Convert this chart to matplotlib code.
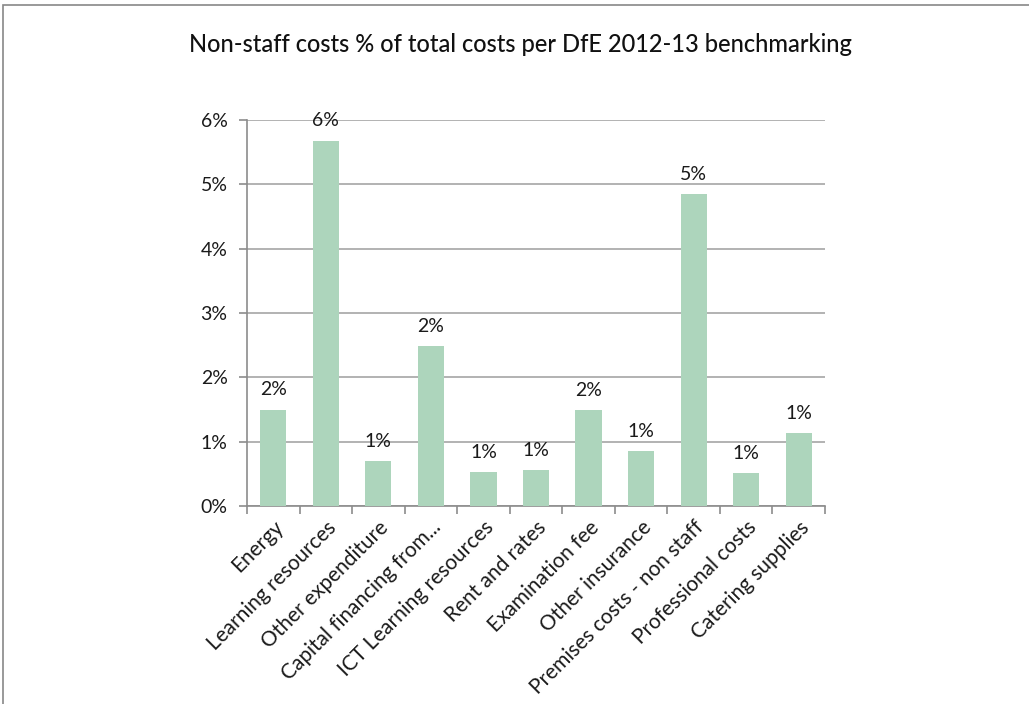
import matplotlib.pyplot as plt
import numpy as np
from matplotlib.patches import Rectangle

categories = [
    "Energy", "Learning resources", "Other expenditure", "Capital financing from...",
    "ICT Learning resources", "Rent and rates", "Examination fee", "Other insurance",
    "Premises costs - non staff", "Professional costs", "Catering supplies",
]
values = [1.50, 5.68, 0.70, 2.49, 0.53, 0.56, 1.49, 0.85, 4.85, 0.51, 1.14]
value_labels = ["2%", "6%", "1%", "2%", "1%", "1%", "2%", "1%", "5%", "1%", "1%"]
y_ticks = [0, 1, 2, 3, 4, 5, 6]

plt.rcParams['font.family'] = ['Lato', 'DejaVu Sans']

fig = plt.figure(figsize=(10.29, 7.04), dpi=100)
fig.patch.set_facecolor('white')

# chart frame
fig.add_artist(Rectangle((3 / 1029, -0.05), 1.2, 1 - 5 / 704 + 0.05, transform=fig.transFigure,
                         fill=False, edgecolor='#878787', linewidth=1.2))

ax = fig.add_axes([247 / 1029, 1 - 506 / 704, (825 - 247) / 1029, (506 - 120) / 704])

x = np.arange(len(categories))
ax.bar(x, values, width=0.5, color='#add5bc', zorder=3)

for xi, v, lab in zip(x, values, value_labels):
    ax.annotate(lab, (xi, v), xytext=(0, 8), textcoords='offset points',
                ha='center', va='bottom', fontsize=14, color='#1a1a1a', zorder=4)

ax.set_xlim(-0.5, len(categories) - 0.5)
ax.set_ylim(0, 6)
ax.set_yticks(y_ticks)
ax.set_yticklabels([f"{t}%" for t in y_ticks], fontsize=14, color='#1a1a1a')
ax.yaxis.grid(True, color='#a6a6a6', linewidth=1.2, zorder=0)

ax.set_xticks(np.arange(-0.5, len(categories), 1.0))
ax.set_xticklabels([])
ax.set_xticks(x, minor=True)
ax.set_xticklabels(categories, minor=True, rotation=45, ha='right',
                   rotation_mode='anchor', fontsize=15, color='#1a1a1a')
ax.tick_params(axis='x', which='minor', length=0, pad=8)
ax.tick_params(axis='x', which='major', length=6, color='#8c8c8c', width=1.2, direction='out')
ax.tick_params(axis='y', length=6, color='#8c8c8c', width=1.2, pad=8)

for side in ['top', 'right']:
    ax.spines[side].set_visible(False)
for side in ['left', 'bottom']:
    ax.spines[side].set_color('#8c8c8c')
    ax.spines[side].set_linewidth(1.2)

fig.text(520 / 1029, 1 - 45 / 704, "Non-staff costs % of total costs per DfE 2012-13 benchmarking",
         ha='center', va='center', fontsize=17, fontweight='medium', color='#111111')

fig.savefig('out.png', dpi=100)
